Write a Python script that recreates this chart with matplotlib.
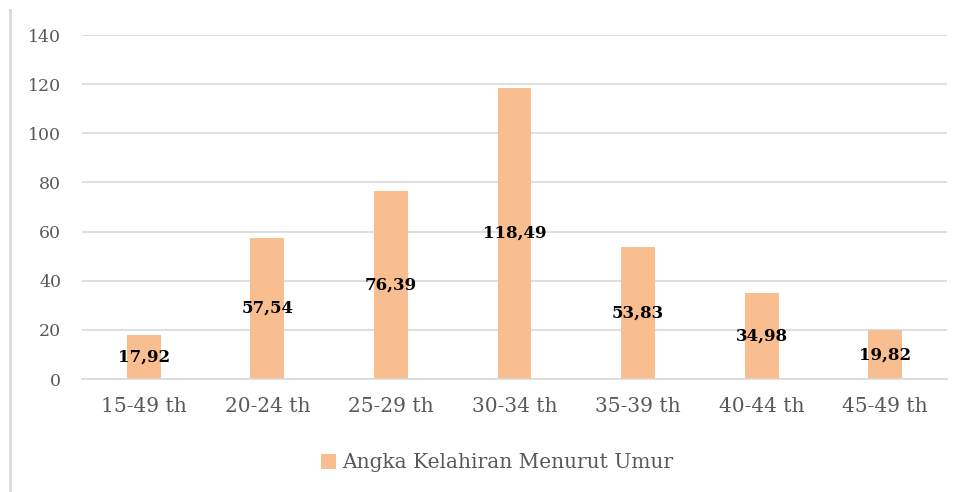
import matplotlib.pyplot as plt
from matplotlib.lines import Line2D
import numpy as np

# data
categories = ["15-49 th", "20-24 th", "25-29 th", "30-34 th", "35-39 th", "40-44 th", "45-49 th"]
values = [17.92, 57.54, 76.39, 118.49, 53.83, 34.98, 19.82]
series_name = "Angka Kelahiran Menurut Umur"

bar_color = "#F9BE8F"
grid_color = "#D9D9D9"
text_color = "#595959"

plt.rcParams['font.family'] = ['DejaVu Serif']

fig = plt.figure(figsize=(9.62, 4.92), dpi=100)
ax = fig.add_axes([82 / 962, 1 - 379 / 492, 865 / 962, 344 / 492])

x = np.arange(len(categories))
bars = ax.bar(x, values, width=0.275, color=bar_color, zorder=2, label=series_name)

# value labels centred in the bars
for xi, v in zip(x, values):
    ax.text(xi, v / 2, f"{v:.2f}".replace(".", ","), ha="center", va="center",
            fontsize=12, fontweight="bold", color="black", zorder=3)

ax.set_xlim(-0.5, len(categories) - 0.5)
ax.set_ylim(0, 140)
ax.set_yticks(np.arange(0, 141, 20))
ax.set_xticks(x)
ax.set_xticklabels(categories)

ax.yaxis.grid(True, color=grid_color, linewidth=1.2, zorder=0)
ax.set_axisbelow(True)
for side in ["top", "right", "left"]:
    ax.spines[side].set_visible(False)
ax.spines["bottom"].set_color(grid_color)
ax.spines["bottom"].set_linewidth(1.2)

ax.tick_params(axis="x", length=0, pad=13, labelsize=14.5, labelcolor=text_color)
ax.tick_params(axis="y", length=0, pad=15, labelsize=12.5, labelcolor=text_color)

# legend below the chart
fig.legend(handles=[bars], labels=[series_name], loc="center", bbox_to_anchor=(497 / 962, 1 - 463 / 492),
           frameon=False, fontsize=14.5, labelcolor=text_color, handlelength=0.75, handleheight=0.75,
           handletextpad=0.3)

# chart border on the left
fig.add_artist(Line2D([10 / 962, 10 / 962], [0, 1 - 10 / 492], transform=fig.transFigure,
                      color=grid_color, linewidth=2))

fig.savefig("out.png", dpi=100)
